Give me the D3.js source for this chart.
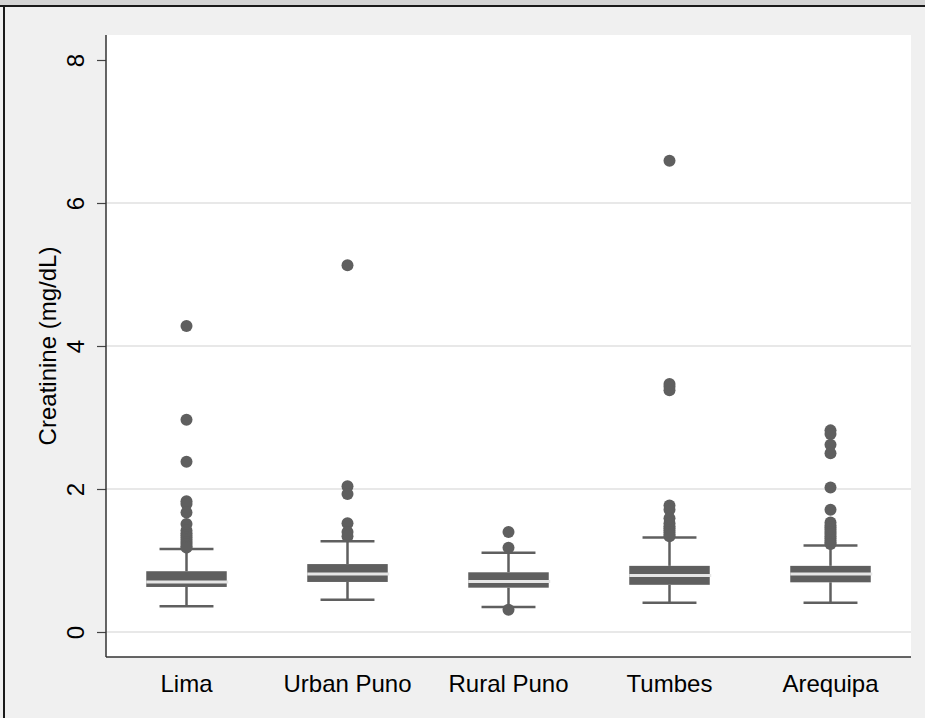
<!DOCTYPE html>
<html>
<head>
<meta charset="utf-8">
<script src="https://cdn.jsdelivr.net/npm/d3@7"></script>
<style>
  html, body { margin: 0; padding: 0; background: #f0f0f0; }
  svg { display: block; }
  text { font-family: "Liberation Sans", Arial, sans-serif; }
</style>
</head>
<body>
<svg id="chart" width="925" height="718"></svg>
<script>
// ---- data ----
const categories = ["Lima", "Urban Puno", "Rural Puno", "Tumbes", "Arequipa"];
const lowerWhisker = [0.36, 0.45, 0.35, 0.41, 0.41];
const q1Values     = [0.63, 0.70, 0.62, 0.66, 0.695];
const medianValues = [0.70, 0.81, 0.705, 0.79, 0.81];
const q3Values     = [0.85, 0.95, 0.835, 0.925, 0.925];
const upperWhisker = [1.16, 1.27, 1.11, 1.32, 1.21];
const outliersLima = [4.28, 2.97, 2.38, 1.83, 1.79, 1.67, 1.51, 1.42, 1.38, 1.35, 1.32, 1.29, 1.26, 1.23, 1.20, 1.18];
const outliersUrbanPuno = [5.13, 2.04, 1.93, 1.52, 1.40, 1.34];
const outliersRuralPuno = [1.40, 1.18, 0.31];
const outliersTumbes = [6.59, 3.47, 3.43, 3.38, 1.77, 1.71, 1.59, 1.52, 1.48, 1.45, 1.42, 1.39, 1.36, 1.34];
const outliersArequipa = [2.82, 2.77, 2.62, 2.50, 2.02, 1.71, 1.53, 1.49, 1.46, 1.43, 1.40, 1.37, 1.34, 1.31, 1.28, 1.25, 1.23];
const yTicks = [0, 2, 4, 6, 8];
const yTitle = "Creatinine (mg/dL)";

const outliers = [outliersLima, outliersUrbanPuno, outliersRuralPuno, outliersTumbes, outliersArequipa];
const groups = categories.map((c, i) => ({
  name: c, lo: lowerWhisker[i], q1: q1Values[i], med: medianValues[i],
  q3: q3Values[i], hi: upperWhisker[i], out: outliers[i]
}));

// ---- layout ----
const W = 925, H = 718;
const plotLeft = 106, plotRight = 911, plotTop = 35, plotBottom = 657;
const boxColor = "#5f5f5f";
const fontSize = 24;

const svg = d3.select("#chart");

// window frame
svg.append("rect").attr("x", 0).attr("y", 0).attr("width", W).attr("height", H).attr("fill", "#f0f0f0");
svg.append("rect").attr("x", 0).attr("y", 0).attr("width", W).attr("height", 5).attr("fill", "#d4d4d4");
svg.append("rect").attr("x", 0).attr("y", 5).attr("width", W).attr("height", 2).attr("fill", "#1a1a1a");
svg.append("rect").attr("x", 3).attr("y", 5).attr("width", 2).attr("height", H - 5).attr("fill", "#1a1a1a");

// plot region
svg.append("rect").attr("x", plotLeft).attr("y", plotTop)
  .attr("width", plotRight - plotLeft).attr("height", plotBottom - plotTop).attr("fill", "#ffffff");

const y = d3.scaleLinear().domain([0, 8]).range([632, 60]);
const x = d3.scaleBand().domain(categories).range([plotLeft, plotRight])
  .paddingInner(0.5).paddingOuter(0.25);

// gridlines (not at 8)
svg.append("g").selectAll("line").data(yTicks.filter(t => t < 8)).join("line")
  .attr("x1", plotLeft).attr("x2", plotRight)
  .attr("y1", d => y(d)).attr("y2", d => y(d))
  .attr("stroke", "#e8e8e8").attr("stroke-width", 2);

// y axis
const yAxis = d3.axisLeft(y).tickValues(yTicks).tickSize(9).tickPadding(0).tickFormat(d3.format("d"));
const gy = svg.append("g").attr("transform", `translate(${plotLeft},0)`).call(yAxis);
gy.select(".domain").remove();
gy.selectAll(".tick line").attr("stroke", "#444").attr("stroke-width", 1.2);
gy.selectAll(".tick text")
  .attr("x", null).attr("dy", null)
  .attr("text-anchor", "middle")
  .attr("dominant-baseline", "central")
  .attr("transform", "translate(-31,0) rotate(-90)")
  .attr("font-size", fontSize).attr("fill", "#000");

// axis lines
svg.append("line").attr("x1", plotLeft).attr("x2", plotLeft).attr("y1", plotTop).attr("y2", plotBottom)
  .attr("stroke", "#333").attr("stroke-width", 1.5);
svg.append("line").attr("x1", plotLeft).attr("x2", plotRight).attr("y1", plotBottom).attr("y2", plotBottom)
  .attr("stroke", "#333").attr("stroke-width", 1.5);

// x axis labels
const xAxis = d3.axisBottom(x).tickSize(0).tickPadding(0);
const gx = svg.append("g").attr("transform", `translate(0,${plotBottom})`).call(xAxis);
gx.select(".domain").remove();
gx.selectAll(".tick text").attr("y", 26).attr("dy", null)
  .attr("dominant-baseline", "central")
  .attr("font-size", fontSize).attr("fill", "#000");

// y title
svg.append("text")
  .attr("transform", `translate(47,${(y(0) + y(8)) / 2}) rotate(-90)`)
  .attr("text-anchor", "middle").attr("dominant-baseline", "central")
  .attr("font-size", fontSize).attr("fill", "#000").text(yTitle);

// boxes
const bw = x.bandwidth();
const capW = bw * 0.67;
const g = svg.append("g").selectAll("g").data(groups).join("g")
  .attr("transform", d => `translate(${x(d.name) + bw / 2},0)`);

g.append("line").attr("x1", 0).attr("x2", 0).attr("y1", d => y(d.hi)).attr("y2", d => y(d.q3))
  .attr("stroke", boxColor).attr("stroke-width", 2.5);
g.append("line").attr("x1", 0).attr("x2", 0).attr("y1", d => y(d.q1)).attr("y2", d => y(d.lo))
  .attr("stroke", boxColor).attr("stroke-width", 2.5);
g.append("line").attr("x1", -capW / 2).attr("x2", capW / 2).attr("y1", d => y(d.hi)).attr("y2", d => y(d.hi))
  .attr("stroke", boxColor).attr("stroke-width", 2.5);
g.append("line").attr("x1", -capW / 2).attr("x2", capW / 2).attr("y1", d => y(d.lo)).attr("y2", d => y(d.lo))
  .attr("stroke", boxColor).attr("stroke-width", 2.5);
g.append("rect").attr("x", -bw / 2).attr("width", bw)
  .attr("y", d => y(d.q3)).attr("height", d => y(d.q1) - y(d.q3))
  .attr("fill", boxColor);
g.append("line").attr("x1", -bw / 2).attr("x2", bw / 2 + 1.5)
  .attr("y1", d => y(d.med)).attr("y2", d => y(d.med))
  .attr("stroke", "#e6e6e6").attr("stroke-width", 3);

g.selectAll("circle").data(d => d.out).join("circle")
  .attr("cx", 0).attr("cy", d => y(d)).attr("r", 6)
  .attr("fill", boxColor);
</script>
</body>
</html>
